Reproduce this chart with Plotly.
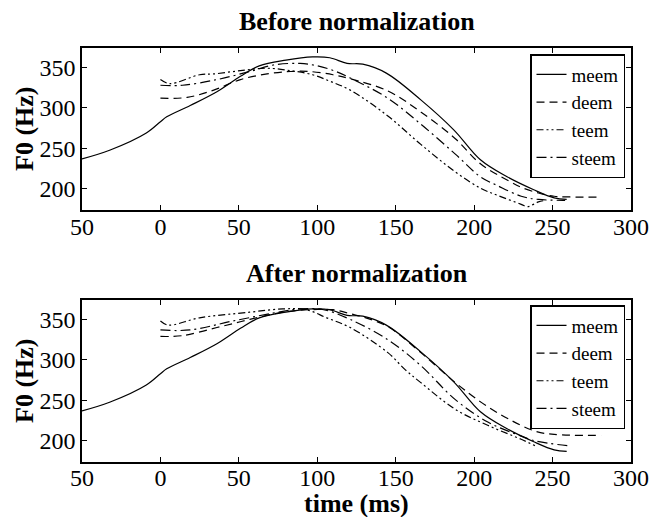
import plotly.graph_objects as go

# ---------------- data ----------------
meem_t = [-50, -32, -9, 0, 4, 19, 36, 51, 63, 80, 97, 108, 119, 129, 144, 166, 187, 204, 221, 238, 251, 259]
meem_f = [237, 248, 269, 283, 289, 303, 320, 339, 352, 359, 363, 362, 355, 354, 343, 310, 273, 236, 215, 199, 189, 187]

# Before normalization
deem_t_b = [0, 17, 34, 51, 68, 83, 95, 110, 121, 145, 166, 188, 204, 222, 230, 241, 251, 264, 281]
deem_f_b = [312, 313, 322, 335, 342, 345, 345, 341, 336, 321, 295, 262, 231, 210, 202, 195, 191, 190, 190]
teem_t_b = [0, 6, 25, 34, 51, 68, 83, 97, 108, 121, 145, 166, 188, 204, 215, 230, 234, 241, 246]
teem_f_b = [335, 330, 341, 342, 346, 349, 346, 341, 333, 322, 290, 255, 221, 201, 192, 181, 178, 184, 186]
steem_t_b = [0, 14, 36, 57, 72, 89, 100, 112, 121, 145, 166, 188, 204, 215, 230, 241, 258]
steem_f_b = [328, 328, 335, 345, 353, 355, 352, 345, 337, 312, 280, 243, 215, 204, 191, 187, 186]

# After normalization
deem_t_a = [0, 14, 36, 57, 78, 95, 110, 121, 131, 146, 166, 188, 205, 222, 239, 251, 281]
deem_f_a = [329, 330, 340, 350, 359, 362, 362, 357, 352, 340, 309, 272, 247, 227, 212, 208, 207]
teem_t_a = [0, 5, 25, 57, 78, 93, 106, 121, 145, 156, 166, 188, 209, 230, 239]
teem_f_a = [348, 343, 352, 359, 363, 362, 352, 340, 309, 288, 272, 239, 219, 202, 194]
steem_t_a = [0, 19, 46, 78, 89, 104, 121, 145, 166, 188, 209, 230, 239, 260]
steem_f_a = [337, 337, 348, 360, 363, 362, 350, 325, 293, 251, 223, 206, 200, 194]

x_ticks = [-50, 0, 50, 100, 150, 200, 250, 300]
x_ticktext = ["50", "0", "50", "100", "150", "200", "250", "300"]
y_ticks = [200, 250, 300, 350]
names = ["meem", "deem", "teem", "steem"]

# ---------------- styles ----------------
SERIF = '"Liberation Serif", "Times New Roman", Times, serif'
dashes = {"meem": "solid", "deem": "8px,5px", "teem": "7px,3px,2px,3px,2px,3px", "steem": "10px,4px,2px,4px"}

fig = go.Figure()

before = {"meem": (meem_t, meem_f), "deem": (deem_t_b, deem_f_b),
          "teem": (teem_t_b, teem_f_b), "steem": (steem_t_b, steem_f_b)}
after = {"meem": (meem_t, meem_f), "deem": (deem_t_a, deem_f_a),
         "teem": (teem_t_a, teem_f_a), "steem": (steem_t_a, steem_f_a)}

for n in names:
    t, f = before[n]
    fig.add_trace(go.Scatter(x=t, y=f, mode="lines", name=n, xaxis="x", yaxis="y",
                             line=dict(color="black", width=1.2, dash=dashes[n]),
                             legend="legend", line_shape="spline"))
for n in names:
    t, f = after[n]
    fig.add_trace(go.Scatter(x=t, y=f, mode="lines", name=n, xaxis="x2", yaxis="y2",
                             line=dict(color="black", width=1.2, dash=dashes[n]),
                             legend="legend2", line_shape="spline"))

H = 517.0
L, R = 82.0, 631.0
W = R - L
def py(p):
    return 1 - p / H
def px(p):
    return (p - L) / W

axis_common = dict(showline=True, linecolor="black", linewidth=1.5, mirror="ticks",
                   ticks="inside", ticklen=5, tickcolor="black", tickwidth=1,
                   showgrid=False, zeroline=False,
                   tickfont=dict(family=SERIF, size=24, color="black"))

legend_common = dict(xanchor="right", yanchor="top",
                     bordercolor="black", borderwidth=1.5, bgcolor="white",
                     entrywidth=68, entrywidthmode="pixels",
                     font=dict(family=SERIF, size=19, color="black"), tracegroupgap=0)

fig.update_layout(
    width=650, height=517,
    margin=dict(l=int(L), r=650 - int(R), t=0, b=0),
    paper_bgcolor="white", plot_bgcolor="white",
    font=dict(family=SERIF, color="black"),
    xaxis=dict(domain=[0, 1], anchor="y", range=[-50, 300], tickvals=x_ticks, ticktext=x_ticktext,
               ticklabelstandoff=-6, **axis_common),
    yaxis=dict(domain=[py(210), py(48)], anchor="x", range=[174, 374], tickvals=y_ticks, **axis_common),
    xaxis2=dict(domain=[0, 1], anchor="y2", range=[-50, 300], tickvals=x_ticks, ticktext=x_ticktext,
                ticklabelstandoff=-7, **axis_common),
    yaxis2=dict(domain=[py(462), py(300)], anchor="x2", range=[174, 374], tickvals=y_ticks, **axis_common),
    legend=dict(x=px(625), y=py(54), **legend_common),
    legend2=dict(x=px(625), y=py(305), **legend_common),
    showlegend=True,
)

title_font = dict(family=SERIF, size=26, color="black")
ann = [
    dict(text="<b>Before normalization</b>", x=px(356.5), y=py(21)),
    dict(text="<b>After normalization</b>", x=px(356.5), y=py(273)),
    dict(text="<b>time (ms)</b>", x=px(356.5), y=py(503)),
    dict(text="<b>F0 (Hz)</b>", x=px(24), y=py(129), textangle=-90),
    dict(text="<b>F0 (Hz)</b>", x=px(24), y=py(381), textangle=-90),
]
for a in ann:
    fig.add_annotation(xref="paper", yref="paper", showarrow=False, font=title_font,
                       xanchor="center", yanchor="middle", **a)

fig.write_html("out.html")
